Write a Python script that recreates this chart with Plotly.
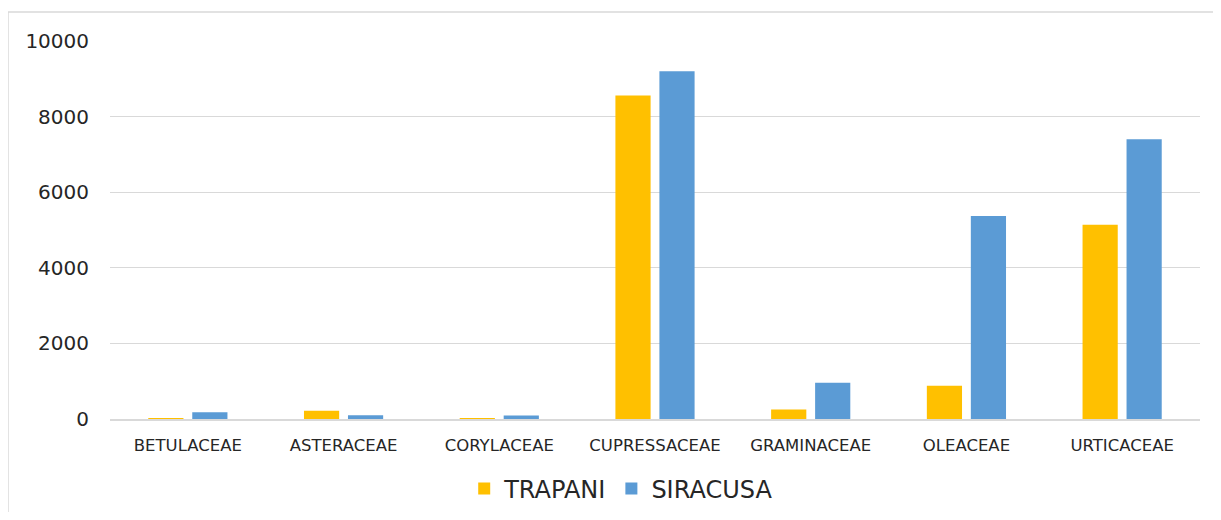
import plotly.graph_objects as go

famiglie = ["BETULACEAE", "ASTERACEAE", "CORYLACEAE", "CUPRESSACEAE",
            "GRAMINACEAE", "OLEACEAE", "URTICACEAE"]
trapani = [25, 220, 20, 8560, 250, 880, 5140]
siracusa = [180, 100, 90, 9200, 960, 5370, 7400]

fig = go.Figure()

fig.add_trace(go.Bar(x=famiglie, y=trapani, name="TRAPANI",
                     marker=dict(color="#FFC000", line=dict(width=0))))
fig.add_trace(go.Bar(x=famiglie, y=siracusa, name="SIRACUSA",
                     marker=dict(color="#5B9BD5", line=dict(width=0))))

# bordo grigio del riquadro del grafico
fig.add_shape(type="rect", xref="paper", yref="paper",
              x0=-0.0936, x1=1.05, y0=-0.35, y1=1.077,
              line=dict(color="#D9D9D9", width=1.5), layer="below")

fig.update_layout(
    width=1205, height=504,
    margin=dict(l=102, r=13, t=33, b=93, autoexpand=False),
    paper_bgcolor="white", plot_bgcolor="white",
    font=dict(family="DejaVu Sans", color="#262626"),
    barmode="group", bargap=0.435, bargroupgap=0.2,
    showlegend=True,
    legend=dict(orientation="h", x=0.469, xanchor="center",
                yref="container", y=0.046, yanchor="middle",
                font=dict(size=24, color="#262626"),
                itemwidth=30, traceorder="normal"),
    xaxis=dict(showgrid=False, showline=True, linecolor="#D9D9D9",
               linewidth=1.5, ticks="", tickfont=dict(size=16.5),
               ticklabelstandoff=10, automargin=False),
    yaxis=dict(range=[0, 10000], dtick=2000, tickformat="d",
               showgrid=True, gridcolor="#D9D9D9", gridwidth=1,
               zeroline=False, showline=False, ticks="",
               tickfont=dict(size=20), ticklabelstandoff=20,
               automargin=False),
)

fig.write_html("out.html")
